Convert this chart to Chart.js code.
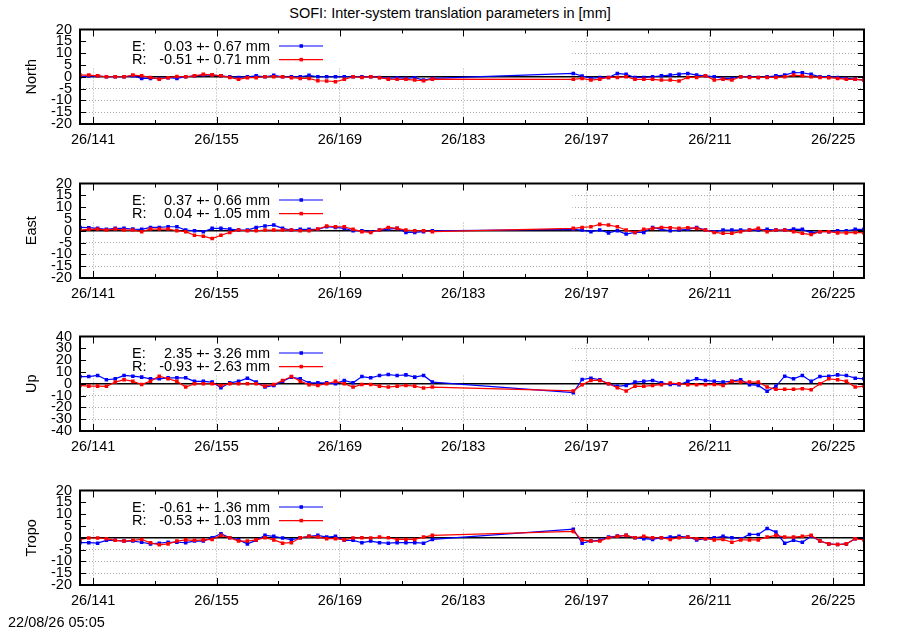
<!DOCTYPE html>
<html>
<head>
<meta charset="utf-8">
<script src="https://cdn.jsdelivr.net/npm/chart.js@4"></script>
<style>
  html, body { margin:0; padding:0; background:#fff; }
  body { width:900px; height:630px; position:relative; overflow:hidden; font-family:"Liberation Sans", Arial, sans-serif; }
  .panel { position:absolute; left:0; width:900px; height:154px; }
  #title { position:absolute; top:5px; left:0; width:900px; text-align:center; font-size:14.5px; line-height:17px; color:#000; }
  #stamp { position:absolute; top:614px; left:8px; font-size:14.5px; line-height:17px; color:#000; }
</style>
</head>
<body>
<div id="title">SOFI: Inter-system translation parameters in [mm]</div>
<div class="panel" style="top:20px"><canvas id="c0" width="900" height="154"></canvas></div>
<div class="panel" style="top:174px"><canvas id="c1" width="900" height="154"></canvas></div>
<div class="panel" style="top:327px"><canvas id="c2" width="900" height="154"></canvas></div>
<div class="panel" style="top:481px"><canvas id="c3" width="900" height="154"></canvas></div>
<div id="stamp">22/08/26 05:05</div>
<script>
// ---------- DATA ----------
const days = [139.5,140.5,141.5,142.5,143.5,144.5,145.5,146.5,147.5,148.5,
  149.5,150.5,151.5,152.5,153.5,154.5,155.5,156.5,157.5,158.5,
  159.5,160.5,161.5,162.5,163.5,164.5,165.5,166.5,167.5,168.5,
  169.5,170.5,171.5,172.5,173.5,174.5,175.5,176.5,177.5,178.5,179.5,
  195.5,196.5,197.5,198.5,199.5,200.5,201.5,202.5,203.5,204.5,
  205.5,206.5,207.5,208.5,209.5,210.5,211.5,212.5,213.5,214.5,
  215.5,216.5,217.5,218.5,219.5,220.5,221.5,222.5,223.5,224.5,
  225.5,226.5,227.5,228.5];

const northE = [0,0.3,0.4,0,0,0,0.4,-0.7,-0.7,-0.7, -0.4,-0.7,0,0.4,0.7,0.7,0.4,0,-0.3,0,
  0.4,0,0.6,0,0,0,0.6,0,0,0, 0,0,0,0,-0.3,-0.7,-0.4,-0.7,-0.4,-1.4,-0.7,
  1.4,0.3,-0.7,-0.3,-0.3,1.4,1.0,-0.3,-0.3,0, 0.4,0.7,1.1,1.4,0.7,0.4,0,-0.7,-0.7,0,
  0,-0.3,0,0.4,0.7,1.8,1.7,1.0,0,0, -0.3,-0.7,-1.0,-1.4];
const northR = [0.7,0.7,0.4,0,0,0,0.7,0.4,-0.3,-1.0, -0.4,0.1,0,0.4,1.0,0.8,0.4,-0.3,-1.1,-0.4,
  -0.4,0,0,0,-0.4,-0.7,-0.7,-1.7,-1.8,-2.1, -1.1,0,-0.3,0,-0.4,-1.0,-1.1,-1.1,-1.4,-1.7,-1.0,
  -1.1,-0.7,-1.4,-1.0,-0.3,-0.3,0,-1.1,-1.1,-1.1, -1.4,-1.4,-1.8,-0.3,-0.3,0.4,-1.4,-1.0,-1.4,0,
  -0.3,-0.3,-0.3,-0.3,0,0.7,0.4,0,-0.3,-0.4, -0.7,-1.1,-1.1,-1.4];
const eastE = [1.4,1.3,1.0,0.6,1.0,1.0,0.7,0.6,1.4,1.4, 1.7,1.7,0.3,0,-0.4,1.0,1.0,0.7,0.3,0.3,
  1.4,2.0,2.4,1.0,0.3,0.6,0.6,0.6,1.7,1.4, 1.0,0,0,-0.4,0.3,0.7,1.0,-0.7,-0.7,-0.4,0,
  0.6,0.3,-0.4,0.3,-0.9,0,-1.4,-0.7,-0.7,1.4, 0.6,0,0.3,0.6,1.4,0.3,-0.4,0.3,0.3,0.3,
  0.3,0.3,0.6,0.3,0.3,0.7,0.6,-0.9,-0.4,-0.4, 0,0,0.6,0.6];
const eastR = [0.3,0.6,0.7,0.3,0.7,0.3,0.3,-0.4,0.7,0.7, 0.7,0,-0.4,-1.9,-2.3,-3.3,-1.9,-0.7,0.3,0,
  0,0.3,0.3,0.3,0.3,0,0,0.7,2.0,1.7, 1.7,0.6,-0.4,-0.7,0.3,1.4,1.0,0.3,0,0,-0.4,
  1.0,1.4,1.7,2.7,2.4,1.7,0.3,-0.7,0.6,1.0, 1.4,1.3,1.0,1.3,1.0,0.3,-0.7,-1.1,-1.1,-0.4,
  0.3,1.0,-0.4,0.3,0.3,-0.4,-1.1,-1.6,-0.4,-0.4, -0.9,-0.9,-0.7,-0.9];
const upE = [6.1,6.1,7.0,3.4,4.2,7.0,6.4,5.6,4.2,4.2, 5.0,5.0,5.0,2.0,2.0,1.4,-3.4,0.8,2.0,4.7,
  1.4,-2.8,-1.4,2.2,5.6,4.2,0.8,0.8,0.8,0, 2.8,0.8,6.1,5.0,7.0,7.8,7.0,7.5,5.6,7.0,1.4,
  -7.5,3.6,4.7,3.4,0,-2.2,-1.4,1.4,2.0,2.8, 0.8,-0.6,-0.8,2.0,4.2,2.8,2.0,1.4,2.2,3.4,
  -0.8,-1.4,-6.4,-2.2,6.4,4.2,7.0,2.0,6.1,6.4, 7.5,7.0,4.7,4.2];
const upR = [-1.4,-2.0,-2.0,-2.2,1.4,3.4,2.0,-0.6,2.2,6.4, 4.2,2.0,-2.8,0,0,0,-1.4,0,0,0,
  0,-2.0,-0.6,2.8,6.1,2.2,-0.8,-1.4,0,2.0, 0,-2.8,-0.6,-0.6,-2.0,-2.8,-2.0,-1.4,-2.0,-3.6,-2.8,
  -6.1,-0.8,2.8,2.8,0,-3.4,-6.1,-2.0,-2.2,-1.4, -0.8,0.6,0,-0.8,-0.8,-0.8,-0.6,-1.4,2.0,1.4,
  1.4,1.4,-2.8,-4.7,-4.7,-4.7,-4.2,-5.0,0,4.2, 3.4,2.0,-2.8,-2.0];
const tropoE = [-2.1,-2.1,-2.3,-1.1,-1.1,-1.4,-1.4,-1.9,-2.6,-2.3, -1.9,-1.9,-2.1,-1.4,-1.4,0,1.7,0,-0.9,-2.6,
  -1.1,1.0,0.6,-0.1,-0.9,0,0.6,1.0,0.3,0.6, -1.1,-1.1,-2.1,-1.4,-2.1,-2.3,-2.1,-2.1,-2.1,-2.3,-0.7,
  3.6,-2.3,-1.4,-1.1,0.3,0.7,1.0,0,-0.4,-0.7, 0,0.3,0.6,0.3,-0.9,-0.4,0,0.6,0,-0.4,
  1.4,1.4,3.9,2.4,-2.3,-1.1,-1.9,0.6,-1.4,-2.6, -2.9,-2.6,-0.4,-0.4];
const tropoR = [-0.7,-0.1,-0.1,-0.4,-1.1,-1.4,-1.1,-0.7,-2.1,-3.0, -2.6,-1.4,-0.9,-1.1,-0.9,-0.7,1.0,0,-1.4,-1.4,
  -0.9,0,-0.9,-2.3,-2.1,0,0.6,0.3,-0.4,-0.4, -0.9,-0.1,0,-0.1,0.3,0,-0.7,-0.7,-0.7,0.3,1.0,
  2.7,-0.9,-1.4,-1.4,0,0.6,1.0,0,0.6,0, 0,-0.7,0,0.3,-0.4,-0.4,-0.9,-0.7,-1.9,-0.9,
  -0.9,-0.9,0.3,1.0,0.3,0.3,0.6,1.0,-1.4,-2.6, -2.9,-2.6,-0.4,-0.9];

const panelNames = ['North','East','Up','Tropo'];
const legendE = ['0.03 +- 0.67 mm','0.37 +- 0.66 mm','2.35 +- 3.26 mm','-0.61 +- 1.36 mm'];
const legendR = ['-0.51 +- 0.71 mm','0.04 +- 1.05 mm','-0.93 +- 2.63 mm','-0.53 +- 1.03 mm'];
const yTicks20 = [-20,-15,-10,-5,0,5,10,15,20];
const yTicks40 = [-40,-30,-20,-10,0,10,20,30,40];
const xTickDays = [141,148,155,162,169,176,183,190,197,204,211,218,225];
const xTickLabels = ['26/141','','26/155','','26/169','','26/183','','26/197','','26/211','','26/225'];
const xMin = 139.5, xMax = 228.5;

// ---------- DRAWING ----------
const FONT = {family:'"Liberation Sans", Arial, sans-serif', size:14.5};
const FONTSTR = '14.5px "Liberation Sans", Arial, sans-serif';
const BLUE = '#0000ff', RED = '#ff0000', GRID = '#a8a8a8';

const gpPlugin = {
  id: 'gp',
  beforeDatasetsDraw(chart, args, o) {
    const {ctx, chartArea: a, scales: {x, y}} = chart;
    ctx.save();
    // opaque key area (hides grid)
    const kx = x.getPixelForValue(195.4);
    const ky = y.getPixelForValue(0) - 9;
    ctx.fillStyle = '#fff';
    ctx.fillRect(a.left + 1, a.top + 1, kx - a.left - 1, ky - a.top - 1);
    // zero axis
    const zy = y.getPixelForValue(0);
    ctx.strokeStyle = '#000'; ctx.lineWidth = 1.5;
    ctx.beginPath(); ctx.moveTo(a.left, zy); ctx.lineTo(a.right, zy); ctx.stroke();
    // key
    ctx.font = FONTSTR; ctx.fillStyle = '#000'; ctx.textBaseline = 'middle';
    const rows = [['E:', o.e, BLUE], ['R:', o.r, RED]];
    rows.forEach((r, i) => {
      const ly = a.top + 16.5 + i * 13.6;
      ctx.fillStyle = '#000';
      ctx.textAlign = 'left'; ctx.fillText(r[0], 132, ly + 0.5);
      ctx.textAlign = 'right'; ctx.fillText(r[1], 270, ly + 0.5);
      ctx.strokeStyle = r[2]; ctx.lineWidth = 1.2;
      ctx.beginPath(); ctx.moveTo(279, ly); ctx.lineTo(323, ly); ctx.stroke();
      ctx.fillStyle = r[2]; ctx.fillRect(299.5, ly - 1.75, 3.5, 3.5);
    });
    ctx.restore();
  },
  afterDraw(chart) {
    const {ctx, chartArea: a, scales: {x, y}} = chart;
    ctx.save();
    ctx.strokeStyle = '#000'; ctx.lineWidth = 1;
    y.ticks.forEach(t => {
      if (t.value === y.min || t.value === y.max) return;
      const py = Math.round(y.getPixelForValue(t.value)) + 0.5;
      ctx.beginPath();
      ctx.moveTo(a.left, py); ctx.lineTo(a.left + 6, py);
      ctx.moveTo(a.right, py); ctx.lineTo(a.right - 6, py);
      ctx.stroke();
    });
    x.ticks.forEach((t, i) => {
      const px = Math.round(x.getPixelForValue(t.value)) + 0.5;
      const len = xTickLabels[i] ? 7 : 4;
      ctx.beginPath();
      ctx.moveTo(px, a.bottom); ctx.lineTo(px, a.bottom - len);
      ctx.moveTo(px, a.top); ctx.lineTo(px, a.top + len);
      ctx.stroke();
    });
    ctx.lineWidth = 2;
    ctx.strokeRect(a.left, a.top, a.right - a.left, a.bottom - a.top);
    ctx.restore();
  }
};

function pts(vals) { return days.map((d, i) => ({x: d, y: vals[i]})); }

function makeChart(id, k, eVals, rVals, yTicks) {
  const lim = yTicks[yTicks.length - 1];
  return new Chart(document.getElementById(id), {
    type: 'line',
    data: { datasets: [
      { label:'E', data: pts(eVals), borderColor: BLUE, backgroundColor: BLUE, borderWidth: 1.2,
        pointStyle:'rect', pointRadius: 2.5, pointBorderWidth: 0, pointHoverRadius: 2.5, tension: 0, order: 1 },
      { label:'R', data: pts(rVals), borderColor: RED, backgroundColor: RED, borderWidth: 1.2,
        pointStyle:'rect', pointRadius: 2.5, pointBorderWidth: 0, pointHoverRadius: 2.5, tension: 0, order: 0 }
    ]},
    options: {
      responsive: false, animation: false, devicePixelRatio: 1,
      layout: { padding: { top: 9.5, right: 36, bottom: 20, left: 0 } },
      plugins: { legend: { display: false }, tooltip: { enabled: false }, gp: { e: legendE[k], r: legendR[k] } },
      scales: {
        x: {
          type: 'linear', min: xMin, max: xMax,
          afterBuildTicks: s => { s.ticks = xTickDays.map(v => ({value: v})); },
          afterFit: s => { s.height = 30; s.paddingLeft = 0; s.paddingRight = 0; },
          ticks: { autoSkip: false, maxRotation: 0, padding: 7, color: '#000', font: FONT,
                   callback: (v, i) => xTickLabels[i] },
          grid: { drawTicks: false, lineWidth: 1,
                  color: c => (c.tick && xTickLabels[c.index]) ? GRID : 'rgba(0,0,0,0)' },
          border: { display: false, dash: [1, 2] }
        },
        y: {
          min: -lim, max: lim,
          afterBuildTicks: s => { s.ticks = yTicks.map(v => ({value: v})); },
          afterFit: s => { s.width = 80; s.paddingTop = 0; s.paddingBottom = 0; },
          ticks: { padding: 8, color: '#000', font: FONT, autoSkip: false },
          grid: { drawTicks: false, lineWidth: 1,
                  color: c => (!c.tick || c.tick.value === 0 || Math.abs(c.tick.value) === lim) ? 'rgba(0,0,0,0)' : GRID },
          border: { display: false, dash: [1, 2] },
          title: { display: true, text: panelNames[k], color: '#000', font: FONT, padding: { top: 23, bottom: 0 } }
        }
      }
    },
    plugins: [gpPlugin]
  });
}

makeChart('c0', 0, northE, northR, yTicks20);
makeChart('c1', 1, eastE, eastR, yTicks20);
makeChart('c2', 2, upE, upR, yTicks40);
makeChart('c3', 3, tropoE, tropoR, yTicks20);
</script>
</body>
</html>
